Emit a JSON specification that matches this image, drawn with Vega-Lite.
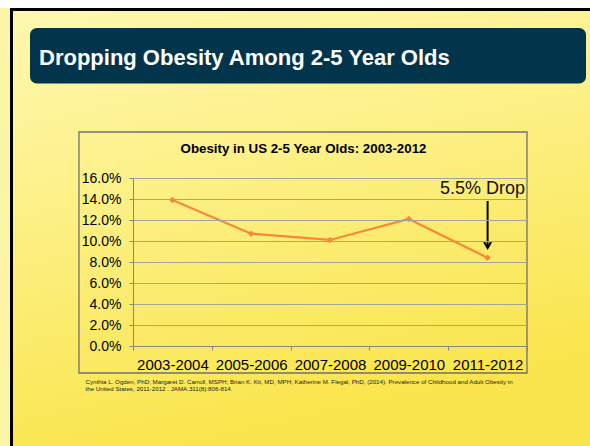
{
  "$schema": "https://vega.github.io/schema/vega-lite/v6.json",
  "width": 394,
  "height": 168,
  "autosize": {"type": "none"},
  "padding": {"left": 133, "top": 178, "right": 63, "bottom": 100},
  "background": "#fdf5a6",
  "config": {
    "view": {"stroke": null},
    "font": "Liberation Sans"
  },
  "datasets": {
    "obesity": [
      {"period": "2003-2004", "rate": 0.139},
      {"period": "2005-2006", "rate": 0.107},
      {"period": "2007-2008", "rate": 0.101},
      {"period": "2009-2010", "rate": 0.121},
      {"period": "2011-2012", "rate": 0.084}
    ],
    "annotation": [
      {"period": "2011-2012", "label": "5.5% Drop", "textAt": 0.1448, "arrowFrom": 0.1381, "arrowTo": 0.0933}
    ],
    "slide": [
      {"title": "Dropping Obesity Among 2-5 Year Olds"}
    ]
  },
  "layer": [
    {
      "data": {"name": "slide"},
      "mark": {"type": "rect", "fill": "#ffffff"},
      "encoding": {"x": {"value": -133}, "x2": {"value": 457}, "y": {"value": -178}, "y2": {"value": -170}}
    },
    {
      "data": {"name": "slide"},
      "mark": {"type": "rect", "fill": "#000000"},
      "encoding": {"x": {"value": -123}, "x2": {"value": 457}, "y": {"value": -170}, "y2": {"value": 268}}
    },
    {
      "data": {"name": "slide"},
      "mark": {
        "type": "rect",
        "fill": {
          "gradient": "linear", "x1": 0, "y1": 0, "x2": 0.3, "y2": 1,
          "stops": [
            {"offset": 0, "color": "#fef8b0"},
            {"offset": 0.5, "color": "#fcef80"},
            {"offset": 1, "color": "#fae54c"}
          ]
        }
      },
      "encoding": {"x": {"value": -120}, "x2": {"value": 457}, "y": {"value": -167}, "y2": {"value": 268}}
    },
    {
      "data": {"name": "slide"},
      "mark": {"type": "rect", "fill": "#02354b", "cornerRadius": 7},
      "encoding": {"x": {"value": -103}, "x2": {"value": 453}, "y": {"value": -150}, "y2": {"value": -94.5}}
    },
    {
      "data": {"name": "slide"},
      "mark": {"type": "text", "align": "left", "baseline": "alphabetic", "fontSize": 22, "fontWeight": "bold", "color": "#ffffff", "font": "Liberation Sans"},
      "encoding": {"x": {"value": -94}, "y": {"value": -113.5}, "text": {"field": "title", "type": "nominal"}}
    },
    {
      "data": {"name": "slide"},
      "mark": {"type": "rect", "fillOpacity": 0, "stroke": "#707070", "strokeWidth": 1.3},
      "encoding": {"x": {"value": -54}, "x2": {"value": 394}, "y": {"value": -46}, "y2": {"value": 195}}
    },
    {
      "data": {"name": "obesity"},
      "mark": {"type": "line", "color": "#f7873a", "strokeWidth": 2.2},
      "encoding": {
        "x": {
          "field": "period", "type": "nominal", "sort": null, "bandPosition": 0.5,
          "scale": {"type": "band", "paddingInner": 0, "paddingOuter": 0},
          "axis": {
            "zindex": 1,
            "labelAngle": 0, "labelFontSize": 15, "labelColor": "#000000", "labelPadding": 7, "labelOverlap": false,
            "domainColor": "#868686", "tickColor": "#868686", "tickSize": 4, "tickBand": "extent", "grid": false,
            "title": ["Cynthia L. Ogden, PhD; Margaret D. Carroll, MSPH; Brian K. Kit, MD, MPH; Katherine M. Flegal, PhD, (2014). Prevalence of Childhood and Adult Obesity in", "the United States, 2011-2012 . JAMA.311(8):806-814."],
            "titleX": -48, "titleY": 37, "titleAlign": "left", "titleBaseline": "alphabetic",
            "titleFontSize": 6.2, "titleFontWeight": "normal", "titleColor": "#222222", "titleLineHeight": 7.6
          }
        },
        "y": {
          "field": "rate", "type": "quantitative",
          "scale": {"domain": [0, 0.16], "nice": false},
          "axis": {
            "zindex": 1,
            "values": [0, 0.02, 0.04, 0.06, 0.08, 0.1, 0.12, 0.14, 0.16],
            "tickCount": 12,
            "format": ".1%", "labelFontSize": 14, "labelColor": "#000000", "labelPadding": 8, "labelOverlap": false,
            "domainColor": "#868686", "tickColor": "#868686", "tickSize": 4,
            "grid": true, "gridColor": "#a3a3a3",
            "title": "Obesity in US 2-5 Year Olds: 2003-2012",
            "titleAngle": 0, "titleX": 170, "titleY": -26, "titleAlign": "center", "titleBaseline": "alphabetic",
            "titleFontSize": 13.3, "titleFontWeight": "bold", "titleColor": "#000000"
          }
        }
      }
    },
    {
      "data": {"name": "obesity"},
      "mark": {"type": "point", "shape": "diamond", "filled": true, "size": 42, "color": "#f7873a", "opacity": 1},
      "encoding": {
        "x": {"field": "period", "type": "nominal", "sort": null, "bandPosition": 0.5},
        "y": {"field": "rate", "type": "quantitative"}
      }
    },
    {
      "data": {"name": "annotation"},
      "mark": {"type": "text", "align": "center", "baseline": "alphabetic", "fontSize": 18, "dx": -5, "color": "#111111"},
      "encoding": {
        "x": {"field": "period", "type": "nominal", "bandPosition": 0.5},
        "y": {"field": "textAt", "type": "quantitative"},
        "text": {"field": "label", "type": "nominal"}
      }
    },
    {
      "data": {"name": "annotation"},
      "mark": {"type": "rule", "color": "#000000", "strokeWidth": 2},
      "encoding": {
        "x": {"field": "period", "type": "nominal", "bandPosition": 0.5},
        "y": {"field": "arrowFrom", "type": "quantitative"},
        "y2": {"field": "arrowTo"}
      }
    },
    {
      "data": {"name": "annotation"},
      "mark": {"type": "point", "shape": "M-1,-1.7L0,0L1,-1.7", "size": 49, "filled": false, "stroke": "#000000", "strokeWidth": 2, "opacity": 1},
      "encoding": {
        "x": {"field": "period", "type": "nominal", "bandPosition": 0.5},
        "y": {"field": "arrowTo", "type": "quantitative"}
      }
    }
  ]
}
